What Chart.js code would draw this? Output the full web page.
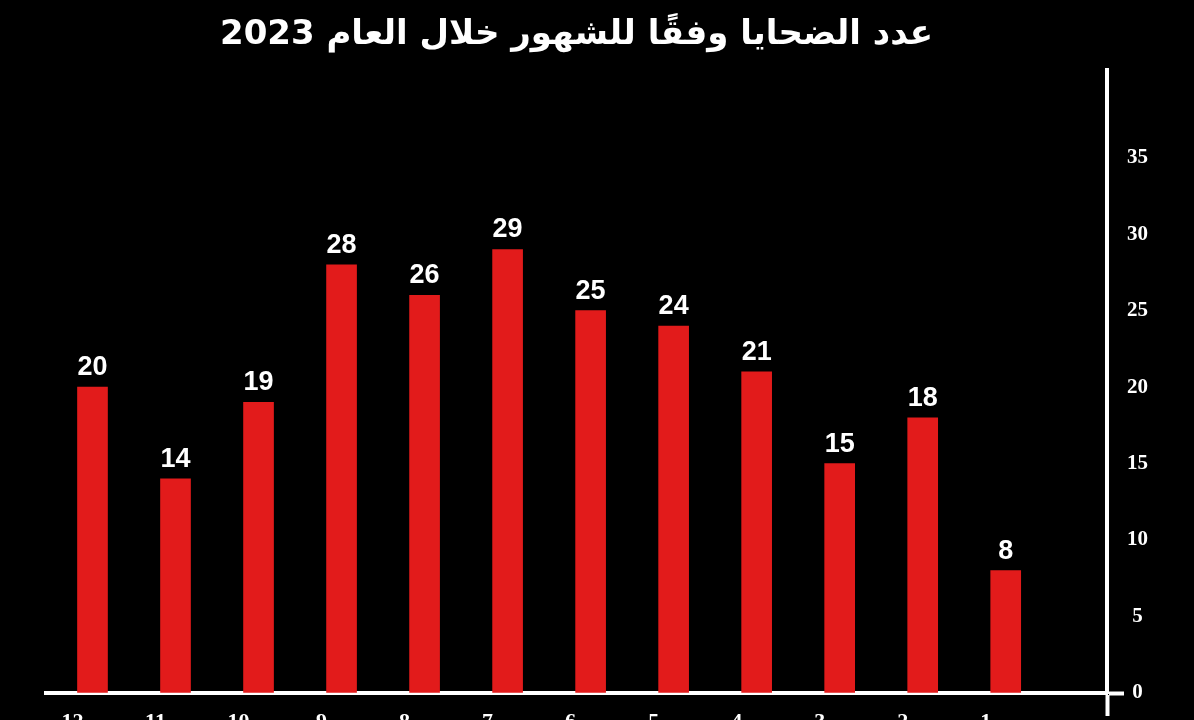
<!DOCTYPE html>
<html>
<head>
<meta charset="utf-8">
<script src="https://cdn.jsdelivr.net/npm/chart.js@4"></script>
<style>
  html, body { margin: 0; padding: 0; background: #000; overflow: hidden; }
  #wrap { width: 1194px; height: 760px; }
  canvas { display: block; background: #000; }
</style>
</head>
<body>
<div id="wrap"><canvas id="c" width="1194" height="760"></canvas></div>
<script>
// ---- data ----
const titleText = 'عدد الضحايا وفقًا للشهور خلال العام 2023';
const months = [1, 2, 3, 4, 5, 6, 7, 8, 9, 10, 11, 12];
const victims = [8, 18, 15, 21, 24, 25, 29, 26, 28, 19, 14, 20];
const yTickValues = [0, 5, 10, 15, 20, 25, 30, 35];

const points = months.map((m, i) => ({ x: m, y: victims[i] }));

const valueLabels = {
  id: 'valueLabels',
  afterDatasetsDraw(chart) {
    const ctx = chart.ctx;
    const meta = chart.getDatasetMeta(0);
    ctx.save();
    ctx.fillStyle = '#ffffff';
    ctx.font = 'bold 27px "Liberation Sans", Arial, sans-serif';
    ctx.textAlign = 'center';
    ctx.textBaseline = 'alphabetic';
    meta.data.forEach((bar, i) => {
      ctx.fillText(String(victims[i]), bar.x, bar.y - 12);
    });
    ctx.restore();
  }
};

new Chart(document.getElementById('c'), {
  type: 'bar',
  data: {
    datasets: [{
      data: points,
      backgroundColor: '#e21b1b',
      borderWidth: 0,
      barThickness: 30
    }]
  },
  plugins: [valueLabels],
  options: {
    responsive: false,
    animation: false,
    devicePixelRatio: 1,
    layout: { padding: { left: 46, right: 0, top: 0, bottom: 0 } },
    plugins: {
      legend: { display: false },
      tooltip: { enabled: false },
      title: {
        display: true,
        text: titleText,
        fullSize: false,
        color: '#ffffff',
        font: { family: '"DejaVu Sans", sans-serif', size: 34, weight: 'bold', lineHeight: 1.2 },
        padding: { top: 15, bottom: 14 }
      }
    },
    scales: {
      x: {
        type: 'linear',
        reverse: true,
        offset: false,
        min: -0.22,
        max: 12.56,
        afterFit: (s) => { s.height = 67; },
        afterBuildTicks: (s) => {
          s.ticks = [{ value: s.min }].concat(months.map(m => ({ value: m })));
        },
        grid: {
          offset: false,
          drawOnChartArea: false,
          drawTicks: true,
          tickLength: 23,
          tickWidth: 4,
          tickColor: (c) => (c.tick && c.tick.value === -0.22) ? '#ffffff' : 'rgba(0,0,0,0)'
        },
        border: { display: true, color: '#ffffff', width: 4 },
        ticks: {
          autoSkip: false,
          maxRotation: 0,
          padding: -7,
          labelOffset: -20,
          color: '#ffffff',
          font: { family: '"Liberation Serif", "Times New Roman", serif', size: 22, weight: 'bold' },
          callback: (v) => months.includes(v) ? String(v) : ''
        }
      },
      y: {
        position: 'right',
        min: 0,
        max: 40.75,
        afterFit: (s) => { s.width = 87; },
        afterBuildTicks: (s) => {
          s.ticks = yTickValues.map(v => ({ value: v }));
        },
        grid: {
          drawOnChartArea: false,
          drawTicks: true,
          tickLength: 17,
          tickWidth: 4,
          tickColor: (c) => (c.tick && c.tick.value === 0) ? '#ffffff' : 'rgba(0,0,0,0)'
        },
        border: { display: true, color: '#ffffff', width: 4 },
        ticks: {
          padding: 3,
          crossAlign: 'center',
          color: '#ffffff',
          font: { family: '"Liberation Serif", "Times New Roman", serif', size: 21, weight: 'bold' }
        }
      }
    }
  }
});
</script>
</body>
</html>
